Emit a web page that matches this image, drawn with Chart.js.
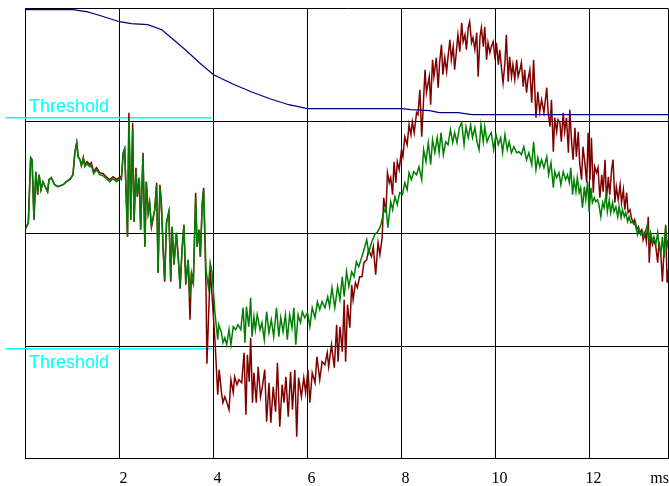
<!DOCTYPE html>
<html>
<head>
<meta charset="utf-8">
<script src="https://cdn.jsdelivr.net/npm/chart.js@4.4.1/dist/chart.umd.min.js"></script>
<style>
    html, body { margin: 0; padding: 0; background: #ffffff; }
    #wrap { position: relative; width: 669px; height: 486px; }
</style>
</head>
<body>
<div id="wrap"><canvas id="scopeChart"></canvas></div>
<script>
// --------------------------------------------------------------------
// Data (time in ms, amplitude in arbitrary units, 112.5 per division)
// --------------------------------------------------------------------
const xTicks = [2, 4, 6, 8, 10, 12];
const unitLabel = 'ms';
const thresholdLabel = 'Threshold';
const thresholdTime = [-0.42, 3.96];
const thresholdHigh = 116;
const thresholdLow = -115;

const blueTime = [0, 1.0, 1.3, 1.6, 2.0, 2.25, 2.6, 2.9, 3.1, 3.4, 3.7, 4.0, 4.4, 4.8, 5.2, 5.6, 6.0, 8.0, 8.2, 8.6, 8.8, 9.2, 9.5, 13.68];
const blueValue = [224, 224, 222, 218, 212, 210, 209, 204, 196, 184, 171, 159, 150, 142, 135, 129, 125, 125, 124, 123, 121, 121, 119, 119];

const greenTime = [
    0.00, 0.06, 0.11, 0.14, 0.18, 0.22, 0.26, 0.29, 0.33, 0.37, 0.41, 0.47, 0.50, 0.55, 0.62, 0.69, 0.80, 0.87, 0.94, 1.01,
    1.05, 1.09, 1.12, 1.16, 1.19, 1.23, 1.26, 1.31, 1.37, 1.40, 1.45, 1.51, 1.58, 1.65, 1.72, 1.79, 1.86, 1.94, 2.01, 2.04,
    2.08, 2.11, 2.17, 2.20, 2.24, 2.28, 2.31, 2.35, 2.38, 2.42, 2.45, 2.50, 2.54, 2.57, 2.61, 2.64, 2.68, 2.75, 2.79, 2.82,
    2.86, 2.89, 2.93, 2.96, 3.00, 3.05, 3.09, 3.12, 3.16, 3.21, 3.25, 3.29, 3.33, 3.37, 3.41, 3.46, 3.50, 3.53, 3.57, 3.62,
    3.65, 3.69, 3.72, 3.76, 3.79, 3.84, 3.89, 3.93, 3.97, 4.03, 4.09, 4.11, 4.17, 4.20, 4.24, 4.28, 4.33, 4.37, 4.42, 4.47,
    4.52, 4.58, 4.63, 4.67, 4.70, 4.75, 4.79, 4.82, 4.86, 4.89, 4.93, 4.99, 5.03, 5.08, 5.13, 5.18, 5.23, 5.28, 5.34, 5.39,
    5.43, 5.48, 5.53, 5.57, 5.62, 5.67, 5.71, 5.75, 5.80, 5.85, 5.89, 5.94, 6.00, 6.05, 6.10, 6.16, 6.21, 6.26, 6.31, 6.37,
    6.43, 6.47, 6.52, 6.58, 6.64, 6.69, 6.74, 6.78, 6.83, 6.88, 6.94, 6.99, 7.04, 7.09, 7.15, 7.20, 7.26, 7.30, 7.36, 7.43,
    7.49, 7.54, 7.57, 7.62, 7.67, 7.71, 7.77, 7.81, 7.86, 7.91, 7.96, 8.02, 8.07, 8.12, 8.16, 8.21, 8.26, 8.32, 8.37, 8.43,
    8.47, 8.52, 8.57, 8.62, 8.66, 8.71, 8.76, 8.80, 8.84, 8.89, 8.94, 8.99, 9.04, 9.09, 9.13, 9.18, 9.23, 9.28, 9.33, 9.37,
    9.42, 9.47, 9.51, 9.56, 9.61, 9.65, 9.69, 9.74, 9.77, 9.82, 9.86, 9.91, 9.96, 10.01, 10.06, 10.11, 10.15, 10.20, 10.25, 10.29,
    10.34, 10.39, 10.45, 10.50, 10.55, 10.60, 10.66, 10.71, 10.77, 10.81, 10.86, 10.90, 10.94, 10.98, 11.03, 11.09, 11.13, 11.18, 11.23, 11.26,
    11.30, 11.35, 11.39, 11.44, 11.49, 11.53, 11.57, 11.60, 11.64, 11.67, 11.71, 11.74, 11.78, 11.81, 11.85, 11.89, 11.92, 11.96, 11.99, 12.03,
    12.06, 12.10, 12.13, 12.17, 12.20, 12.24, 12.28, 12.31, 12.35, 12.38, 12.42, 12.45, 12.49, 12.52, 12.56, 12.60, 12.63, 12.67, 12.70, 12.74,
    12.77, 12.81, 12.84, 12.88, 12.91, 12.95, 12.98, 13.02, 13.05, 13.09, 13.13, 13.16, 13.20, 13.23, 13.27, 13.30, 13.34, 13.37, 13.41, 13.45,
    13.48, 13.52, 13.55, 13.59, 13.62, 13.65, 13.68
];
const greenValue = [
    5, 11, 76, 74, 14, 62, 39, 59, 44, 52, 48, 42, 54, 56, 49, 47, 49, 52, 54, 59,
    81, 91, 77, 74, 68, 76, 67, 70, 67, 69, 60, 64, 59, 58, 55, 52, 55, 52, 55, 54,
    81, 85, -3, 114, 14, 104, 12, 62, 37, 56, 4, 79, -13, 52, 21, 31, 7, 24, 49, -39,
    47, 31, -16, -46, 11, 22, -46, 7, -29, 1, -23, -53, -16, 9, -49, -26, -64, -39, -49, 36,
    -13, 4, -23, 28, 44, -36, -53, -29, -39, -79, -106, -91, -99, -109, -104, -111, -96, -111, -93, -96,
    -91, -96, -74, -109, -73, -93, -64, -103, -83, -96, -81, -96, -89, -106, -78, -99, -86, -103, -74, -103,
    -84, -98, -81, -106, -81, -94, -74, -111, -81, -89, -78, -84, -79, -93, -74, -84, -68, -76, -68, -74,
    -63, -73, -54, -74, -53, -66, -43, -63, -38, -53, -38, -43, -28, -33, -24, -16, -6, -19, -9, -1,
    2, 6, 11, 21, 27, 6, 32, 24, 37, 29, 41, 39, 51, 44, 61, 54, 62, 59, 67, 54,
    84, 72, 91, 69, 94, 81, 96, 81, 101, 79, 92, 89, 104, 91, 101, 91, 106, 111, 89, 107,
    96, 109, 96, 106, 91, 84, 109, 92, 107, 92, 97, 101, 84, 99, 89, 96, 81, 99, 84, 92,
    81, 87, 81, 82, 79, 87, 74, 81, 69, 92, 64, 76, 67, 74, 66, 77, 59, 71, 46, 62,
    56, 61, 49, 62, 54, 59, 51, 66, 39, 54, 42, 56, 41, 46, 26, 47, 34, 52, 22, 46,
    31, 36, 32, 34, 29, 17, 31, 26, 39, 22, 34, 21, 31, 22, 27, 17, 27, 16, 24, 17,
    21, 12, 17, 11, 12, 9, 11, -1, 4, -1, 2, -3, 4, 9, -8, 1, -8, -3, -11, 1,
    -13, -19, -3, -24, 7, -13, -6
];

const redTime = [
    0.00, 0.06, 0.11, 0.14, 0.18, 0.22, 0.26, 0.29, 0.33, 0.37, 0.41, 0.47, 0.50, 0.55, 0.62, 0.69, 0.80, 0.87, 0.94, 1.01,
    1.05, 1.09, 1.12, 1.16, 1.19, 1.23, 1.26, 1.31, 1.37, 1.40, 1.45, 1.51, 1.58, 1.65, 1.72, 1.79, 1.86, 1.94, 2.01, 2.04,
    2.08, 2.11, 2.17, 2.20, 2.24, 2.28, 2.31, 2.35, 2.38, 2.42, 2.45, 2.50, 2.54, 2.57, 2.61, 2.64, 2.68, 2.75, 2.79, 2.82,
    2.86, 2.89, 2.93, 2.96, 3.00, 3.05, 3.09, 3.12, 3.16, 3.21, 3.25, 3.29, 3.33, 3.37, 3.41, 3.46, 3.50, 3.53, 3.57, 3.62,
    3.65, 3.69, 3.72, 3.76, 3.79, 3.84, 3.86, 3.93, 3.97, 4.03, 4.09, 4.12, 4.17, 4.20, 4.24, 4.28, 4.33, 4.37, 4.42, 4.45,
    4.50, 4.54, 4.60, 4.65, 4.69, 4.72, 4.76, 4.79, 4.83, 4.86, 4.91, 4.95, 5.00, 5.04, 5.09, 5.13, 5.18, 5.22, 5.27, 5.32,
    5.36, 5.41, 5.46, 5.50, 5.54, 5.59, 5.64, 5.68, 5.73, 5.77, 5.81, 5.87, 5.92, 5.96, 6.01, 6.05, 6.10, 6.16, 6.20, 6.26,
    6.31, 6.37, 6.42, 6.45, 6.51, 6.57, 6.62, 6.65, 6.69, 6.74, 6.78, 6.81, 6.85, 6.90, 6.94, 6.97, 7.02, 7.06, 7.11, 7.16,
    7.20, 7.26, 7.30, 7.36, 7.40, 7.45, 7.50, 7.54, 7.59, 7.62, 7.67, 7.70, 7.74, 7.77, 7.81, 7.84, 7.88, 7.91, 7.95, 8.00,
    8.03, 8.07, 8.12, 8.16, 8.20, 8.23, 8.27, 8.32, 8.35, 8.39, 8.43, 8.50, 8.53, 8.59, 8.62, 8.66, 8.69, 8.74, 8.78, 8.81,
    8.85, 8.88, 8.92, 8.96, 8.99, 9.03, 9.06, 9.10, 9.13, 9.17, 9.20, 9.24, 9.28, 9.31, 9.35, 9.38, 9.42, 9.45, 9.49, 9.52,
    9.56, 9.60, 9.63, 9.67, 9.70, 9.74, 9.77, 9.81, 9.84, 9.88, 9.91, 9.95, 9.99, 10.02, 10.06, 10.09, 10.13, 10.16, 10.20, 10.23,
    10.27, 10.30, 10.34, 10.37, 10.41, 10.45, 10.48, 10.52, 10.55, 10.59, 10.62, 10.66, 10.69, 10.73, 10.77, 10.81, 10.86, 10.90, 10.94, 10.98,
    11.03, 11.09, 11.12, 11.16, 11.19, 11.23, 11.26, 11.30, 11.33, 11.37, 11.40, 11.44, 11.47, 11.51, 11.55, 11.58, 11.62, 11.65, 11.69, 11.72,
    11.76, 11.79, 11.83, 11.86, 11.90, 11.94, 11.97, 12.01, 12.04, 12.08, 12.11, 12.15, 12.18, 12.22, 12.26, 12.29, 12.33, 12.36, 12.40, 12.43,
    12.47, 12.50, 12.54, 12.57, 12.61, 12.65, 12.68, 12.72, 12.75, 12.79, 12.82, 12.86, 12.89, 12.93, 12.96, 13.00, 13.04, 13.07, 13.11, 13.14,
    13.18, 13.21, 13.25, 13.27, 13.30, 13.34, 13.37, 13.41, 13.45, 13.48, 13.52, 13.55, 13.59, 13.62, 13.65, 13.68
];
const redValue = [
    5, 11, 76, 74, 14, 62, 39, 59, 44, 52, 48, 42, 54, 56, 49, 47, 49, 52, 54, 59,
    81, 91, 77, 74, 68, 76, 69, 72, 69, 71, 62, 66, 61, 60, 57, 54, 57, 54, 57, 56,
    81, 85, -3, 121, 14, 111, 12, 66, 37, 56, 4, 81, -13, 52, 21, 31, 7, 24, 51, -39,
    49, 31, -18, -48, 11, 22, -48, 7, -31, 1, -25, -55, -16, 9, -51, -26, -86, -39, -51, 41,
    -13, 4, -23, 31, 46, -53, -130, -36, -63, -106, -161, -136, -159, -169, -163, -168, -176, -146, -159, -143,
    -151, -146, -149, -119, -181, -121, -148, -104, -169, -139, -169, -133, -163, -153, -136, -188, -149, -189, -153, -178,
    -129, -193, -151, -169, -143, -183, -138, -176, -136, -203, -144, -163, -144, -159, -136, -169, -139, -149, -123, -146,
    -128, -131, -119, -133, -111, -134, -91, -128, -93, -118, -66, -128, -71, -94, -51, -66, -49, -54, -43, -43,
    -29, -26, -16, -23, -13, -41, -9, -21, -3, 36, 21, 61, 51, 56, 39, 72, 51, 72, 64, 84,
    77, 97, 89, 109, 99, 112, 101, 121, 119, 144, 97, 164, 141, 157, 129, 174, 157, 176, 146, 171,
    189, 159, 176, 162, 177, 194, 174, 187, 164, 184, 199, 182, 211, 192, 199, 184, 206, 212, 191, 196,
    184, 201, 157, 197, 206, 187, 207, 174, 191, 181, 187, 192, 174, 191, 169, 184, 164, 151, 171, 199,
    152, 177, 157, 169, 154, 174, 157, 164, 171, 147, 164, 141, 154, 164, 131, 174, 116, 142, 122, 134,
    121, 146, 121, 107, 134, 82, 116, 102, 114, 111, 92, 121, 102, 116, 81, 124, 91, 74, 106, 77,
    102, 71, 54, 87, 71, 51, 101, 54, 96, 41, 67, 61, 66, 36, 59, 42, 74, 34, 57, 39,
    64, 74, 31, 47, 34, 49, 31, 44, 24, 41, 21, 24, 16, 11, 14, 4, 7, 1, 4, -6,
    1, -8, 17, -29, -3, -11, -6, -13, -29, -8, -23, -48, -13, 9, -49, -36
];

// --------------------------------------------------------------------
// Helpers
// --------------------------------------------------------------------
function toPoints(times, values) {
    return times.map((t, i) => ({ x: t, y: values[i] }));
}

const colors = {
    blue: '#000080',
    green: '#008000',
    red: '#800000',
    threshold: '#00ffff',
    grid: '#000000'
};

const lineStyle = {
    pointRadius: 0,
    tension: 0,
    fill: false
};

// Texts that sit next to the threshold lines and the axis unit
const labelPlugin = {
    id: 'scopeLabels',
    afterDraw(chart) {
        const { ctx, chartArea, scales } = chart;
        const y = scales.y;
        ctx.save();
        ctx.fillStyle = colors.threshold;
        ctx.font = '18px "Liberation Sans", Arial, sans-serif';
        ctx.textAlign = 'left';
        ctx.textBaseline = 'alphabetic';
        ctx.fillText(thresholdLabel, chartArea.left + 3.5, y.getPixelForValue(thresholdHigh) - 5.5);
        ctx.fillText(thresholdLabel, chartArea.left + 3.5, y.getPixelForValue(thresholdLow) + 19.5);

        ctx.fillStyle = '#000000';
        ctx.font = '16px "Liberation Serif", "Times New Roman", serif';
        ctx.textAlign = 'right';
        ctx.fillText(unitLabel, chartArea.right + 0.5, chartArea.bottom + 24);
        ctx.restore();
    }
};

const ctx = document.getElementById('scopeChart');
new Chart(ctx, {
    type: 'line',
    data: {
        datasets: [
            {
                label: 'blue',
                data: toPoints(blueTime, blueValue),
                borderColor: colors.blue,
                borderWidth: 1.2,
                ...lineStyle
            },
            {
                label: 'green',
                data: toPoints(greenTime, greenValue),
                borderColor: colors.green,
                borderWidth: 1.5,
                ...lineStyle
            },
            {
                label: 'red',
                data: toPoints(redTime, redValue),
                borderColor: colors.red,
                borderWidth: 1.5,
                ...lineStyle
            },
            {
                label: 'threshold high',
                data: toPoints(thresholdTime, [thresholdHigh, thresholdHigh]),
                borderColor: colors.threshold,
                borderWidth: 1.5,
                clip: false,
                ...lineStyle
            },
            {
                label: 'threshold low',
                data: toPoints(thresholdTime, [thresholdLow, thresholdLow]),
                borderColor: colors.threshold,
                borderWidth: 1.5,
                clip: false,
                ...lineStyle
            }
        ]
    },
    options: {
        responsive: true,
        maintainAspectRatio: false,
        animation: false,
        events: [],
        layout: {
            padding: { left: 25.5, right: 0.5, top: 8.7, bottom: 0 }
        },
        plugins: {
            legend: { display: false },
            tooltip: { enabled: false }
        },
        scales: {
            x: {
                type: 'linear',
                min: 0,
                max: 13.68,
                border: { display: true, color: colors.grid, width: 1 },
                grid: { color: colors.grid, lineWidth: 1, drawTicks: false },
                ticks: {
                    stepSize: 2,
                    padding: 10,
                    labelOffset: 4,
                    maxRotation: 0,
                    autoSkip: false,
                    color: '#000000',
                    font: { family: '"Liberation Serif", "Times New Roman", serif', size: 16 },
                    callback: (v) => xTicks.includes(v) ? String(v) : ''
                },
                afterFit: (scale) => {
                    scale.height = 27.3;
                    scale.paddingLeft = 0;
                    scale.paddingRight = 0;
                }
            },
            y: {
                type: 'linear',
                min: -225,
                max: 225,
                border: { display: true, color: colors.grid, width: 1 },
                grid: { color: colors.grid, lineWidth: 1, drawTicks: false },
                ticks: { stepSize: 112.5, display: false },
                afterFit: (scale) => {
                    scale.width = 0;
                    scale.paddingTop = 0;
                    scale.paddingBottom = 0;
                }
            }
        }
    },
    plugins: [labelPlugin]
});
</script>
</body>
</html>
